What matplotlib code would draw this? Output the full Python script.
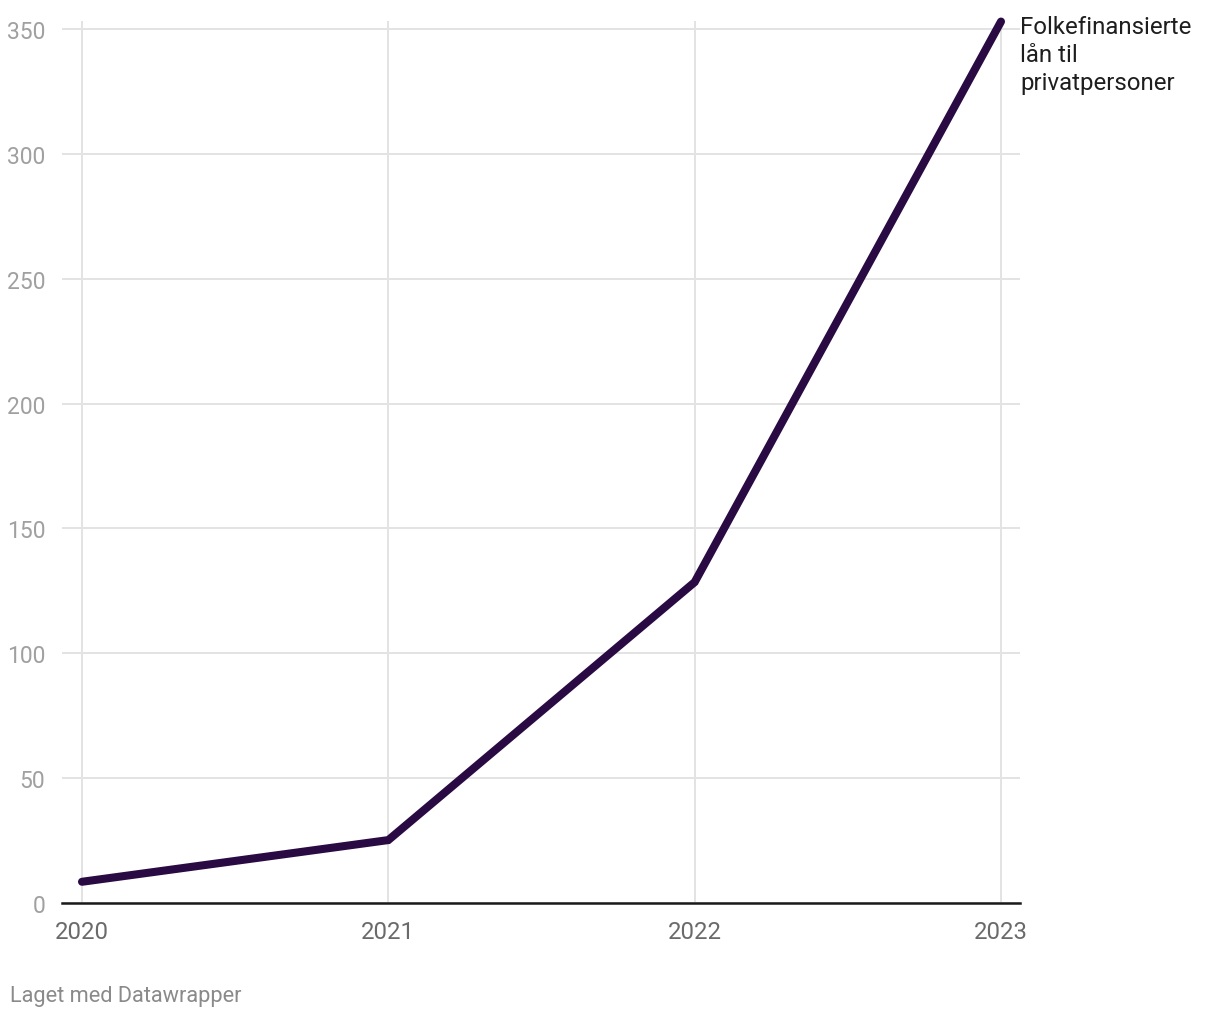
import matplotlib
matplotlib.use("Agg")
import matplotlib.pyplot as plt

years = [2020, 2021, 2022, 2023]
values = [8.5, 25.2, 128.5, 353.0]
yticks = [0, 50, 100, 150, 200, 250, 300, 350]
series_label = "Folkefinansierte\nlån til\nprivatpersoner"
footer = "Laget med Datawrapper"

plt.rcParams['font.family'] = ['Roboto', 'DejaVu Sans']

fig = plt.figure(figsize=(12.2, 10.2), dpi=100)
ax = fig.add_axes([62/1220, (1020-904)/1020, (1020-62)/1220, (904-22)/1020])

ax.plot(years, values, color='#2a0a42', lw=5.8, solid_capstyle='round', solid_joinstyle='miter', zorder=3, clip_on=False)

ax.set_xlim(2020 - 20/306.33, 2023 + 19/306.33)
ax.set_ylim(0, 882/2.497)
ax.set_xticks(years)
ax.set_xticklabels([str(y) for y in years])
ax.set_yticks(yticks)
ax.set_yticklabels([str(v) for v in yticks])

ax.grid(True, color='#e3e3e3', lw=1.4)
ax.set_axisbelow(True)
for s in ['top', 'right', 'left']:
    ax.spines[s].set_visible(False)
ax.spines['bottom'].set_color('#1a1a1a')
ax.spines['bottom'].set_linewidth(1.8)
ax.spines['bottom'].set_zorder(4)

ax.tick_params(axis='y', length=0, pad=12, labelsize=16.5, labelcolor='#a0a0a0')
ax.tick_params(axis='x', length=0, pad=12, labelsize=17.2, labelcolor='#6a6a6a')

ax.text(1.0, 355.6, series_label, transform=ax.get_yaxis_transform(), fontsize=17.3, color='#1e1e1e',
        ha='left', va='top', linespacing=1.27)

fig.text(10/1220, 1 - 997/1020, footer, fontsize=15.7, color='#8a8a8a', ha='left', va='center')

fig.savefig('out.png', dpi=100, facecolor='white')
